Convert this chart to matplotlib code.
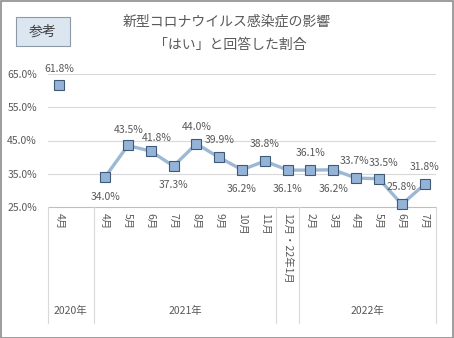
import matplotlib
matplotlib.use("Agg")
import matplotlib.pyplot as plt
from matplotlib.patches import Rectangle
import numpy as np

plt.rcParams["font.family"] = ["Noto Sans CJK JP", "DejaVu Sans"]

# data
months = ["4月", "", "4月", "5月", "6月", "7月", "8月", "9月", "10月", "11月",
          "12月・22年1月", "2月", "3月", "4月", "5月", "6月", "7月"]
values = [61.8, None, 34.0, 43.5, 41.8, 37.3, 44.0, 39.9, 36.2, 38.8,
          36.1, 36.1, 36.2, 33.7, 33.5, 25.8, 31.8]
years = ["2020年", "2021年", "", "2022年"]
year_spans = [(0, 1), (2, 9), (10, 10), (11, 16)]
yticks = [25, 35, 45, 55, 65]

# label placement (pixel offsets from marker)
label_dx = [0, 0, 0, 1, 6, 0, 0, 0, 0, 0, 0, 0, 0, -2, 5, 0, 0]
label_dy = [16, 0, -20, 15, 13, -19, 17, 17, -19, 17, -19, 17, -19, 17, 16, 17, 17]

W, H = 454, 338
fig = plt.figure(figsize=(W / 100, H / 100), dpi=100)
fig.patch.set_facecolor("white")

fs = 7.5
txt_c = "#595959"

x0, x1, ytop, ybot = 48, 436, 74, 207
ax = fig.add_axes([x0 / W, 1 - ybot / H, (x1 - x0) / W, (ybot - ytop) / H])
ax.set_xlim(-0.5, len(months) - 0.5)
ax.set_ylim(25, 65)
for s in ax.spines.values():
    s.set_visible(False)
ax.set_xticks([])
ax.set_yticks(yticks)
ax.set_yticklabels([f"{v:.1f}%" for v in yticks], fontsize=fs, color=txt_c)
ax.tick_params(axis="y", length=0, pad=8)
for v in yticks[1:]:
    ax.axhline(v, color="#d9d9d9", lw=0.8, zorder=0)
ax.axhline(25, color="#bfbfbf", lw=0.8, zorder=0, clip_on=False)

x = np.arange(len(months))
y = np.array([np.nan if v is None else v for v in values])
ax.plot(x[2:], y[2:], color="#9db8d5", lw=2.4, zorder=2, solid_joinstyle="round")
ax.plot(x, y, ls="none", marker="s", ms=7.8, mfc="#95b3d7", mec="#3d5a78",
        mew=0.8, zorder=3, clip_on=False)

for i, v in enumerate(values):
    if v is None:
        continue
    ax.annotate(f"{v:.1f}%", (i, v), xytext=(label_dx[i] * 0.72, label_dy[i] * 0.72),
                textcoords="offset points", ha="center", va="center",
                fontsize=fs, color=txt_c, annotation_clip=False)

# category axis
tr = ax.get_xaxis_transform()
ph = ybot - ytop


def fy(py):
    return (ybot - py) / ph


for i, m in enumerate(months):
    if m:
        ax.text(i, fy(213), m, rotation=-90, ha="center", va="top",
                fontsize=fs, color=txt_c, transform=tr, clip_on=False)

bounds = [-0.5] + [b + 0.5 for (a, b) in year_spans]
for bx in bounds:
    ax.plot([bx, bx], [fy(207), fy(323)], color="#d9d9d9", lw=0.8,
            transform=tr, clip_on=False)
for (a, b), yl in zip(year_spans, years):
    if yl:
        ax.text((a + b) / 2, fy(311), yl, ha="center", va="center",
                fontsize=fs, color=txt_c, transform=tr, clip_on=False)

# titles
fig.text(227 / W, 1 - 22 / H, "新型コロナウイルス感染症の影響", ha="center", va="center",
         fontsize=10, color=txt_c)
fig.text(230 / W, 1 - 45 / H, "「はい」と回答した割合", ha="center", va="center",
         fontsize=10, color=txt_c)

# 参考 box
fig.patches.append(Rectangle((16 / W, 1 - 46 / H), 54 / W, 29 / H,
                             transform=fig.transFigure, fc="#dce6f1",
                             ec="#8c9aa8", lw=0.8))
fig.text(43 / W, 1 - 31.5 / H, "参考", ha="center", va="center",
         fontsize=10, color="#404040")

# outer frame
fig.patches.append(Rectangle((0.5 / W, 0.5 / H), (W - 1.5) / W, (H - 1.5) / H,
                             transform=fig.transFigure, fc="none",
                             ec="#8c8c8c", lw=1.2))

fig.savefig("out.png", dpi=100)
